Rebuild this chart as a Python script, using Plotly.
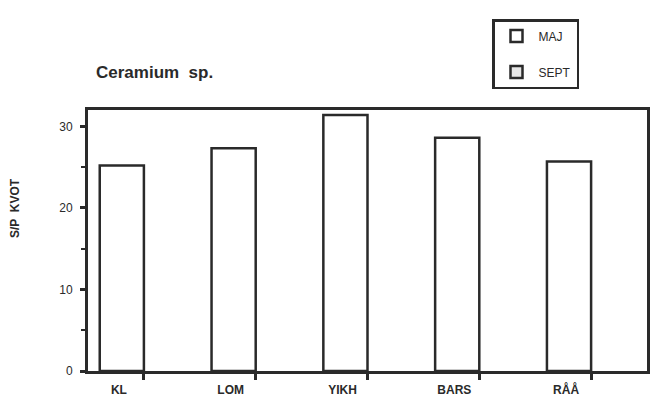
import plotly.graph_objects as go

stations = ["KL", "LOM", "YIKH", "BARS", "RÅÅ"]
maj_values = [25.2, 27.3, 31.4, 28.6, 25.7]
sept_values = [None, None, None, None, None]
series_names = ["MAJ", "SEPT"]
y_ticks = [0, 10, 20, 30]
title_text = "Ceramium  sp."
y_title = "S/P  KVOT"

FONT = "Liberation Sans, Arial, sans-serif"
INK = "#2a2a2a"
W, H = 652, 406
L, R, T, B = 88, 5, 110, 35
PW, PH = W - L - R, H - T - B

def px_x(x):
    return (x - L) / PW

def px_y(y):
    return (H - B - y) / PH

fig = go.Figure()
fig.add_trace(go.Bar(
    x=stations, y=maj_values, name=series_names[0], legendgroup="a",
    marker=dict(color="white", line=dict(color=INK, width=2.5)),
))
fig.add_trace(go.Bar(
    x=stations, y=sept_values, name=series_names[1], legendgroup="b",
    marker=dict(color="#e6e6e6", line=dict(color=INK, width=2.5)),
))

fig.update_layout(
    width=W, height=H,
    margin=dict(l=L, r=R, t=T, b=B, autoexpand=False),
    paper_bgcolor="white", plot_bgcolor="white",
    barmode="group", bargap=0.21, bargroupgap=0,
    font=dict(family=FONT, color=INK),
    showlegend=True,
    legend=dict(
        xref="container", yref="container",
        x=492 / W, y=1 - 19 / H, xanchor="left", yanchor="top",
        bordercolor=INK, borderwidth=2.5, bgcolor="white",
        font=dict(size=12, family=FONT, color=INK),
        tracegroupgap=17, itemwidth=34,
    ),
    annotations=[
        dict(text="<b>" + title_text + "</b>", x=px_x(94), y=px_y(72), xref="paper", yref="paper",
             showarrow=False, font=dict(size=17, family=FONT, color=INK),
             xanchor="left", yanchor="middle"),
        dict(text="<b>" + y_title + "</b>", x=px_x(15), y=px_y(208), xref="paper", yref="paper",
             showarrow=False, textangle=-90, font=dict(size=12, family=FONT, color=INK),
             xanchor="center", yanchor="middle"),
    ],
)

fig.update_xaxes(
    showline=True, linecolor=INK, linewidth=3, mirror=True,
    ticks="outside", ticklen=6, tickwidth=2.5, tickcolor=INK,
    tickfont=dict(size=12, family=FONT, color=INK),
    ticklabelshift=-25, showgrid=False,
    tickprefix="<b>", ticksuffix="</b>",
)
fig.update_yaxes(
    range=[0, 32], tickvals=y_ticks,
    showline=True, linecolor=INK, linewidth=3, mirror=True,
    ticks="outside", ticklen=5, tickwidth=2.5, tickcolor=INK,
    tickfont=dict(size=12, family=FONT, color=INK),
    ticklabelstandoff=5,
    tickprefix="<b>", ticksuffix="</b>",
    showgrid=False, zeroline=False,
    minor=dict(dtick=5, ticks="outside", ticklen=4, tickwidth=2, tickcolor=INK, showgrid=False),
)

fig.write_html(
    "out.html",
    config={"displayModeBar": False},
    post_script="document.body.style.margin='0';document.body.style.overflow='hidden';",
)
